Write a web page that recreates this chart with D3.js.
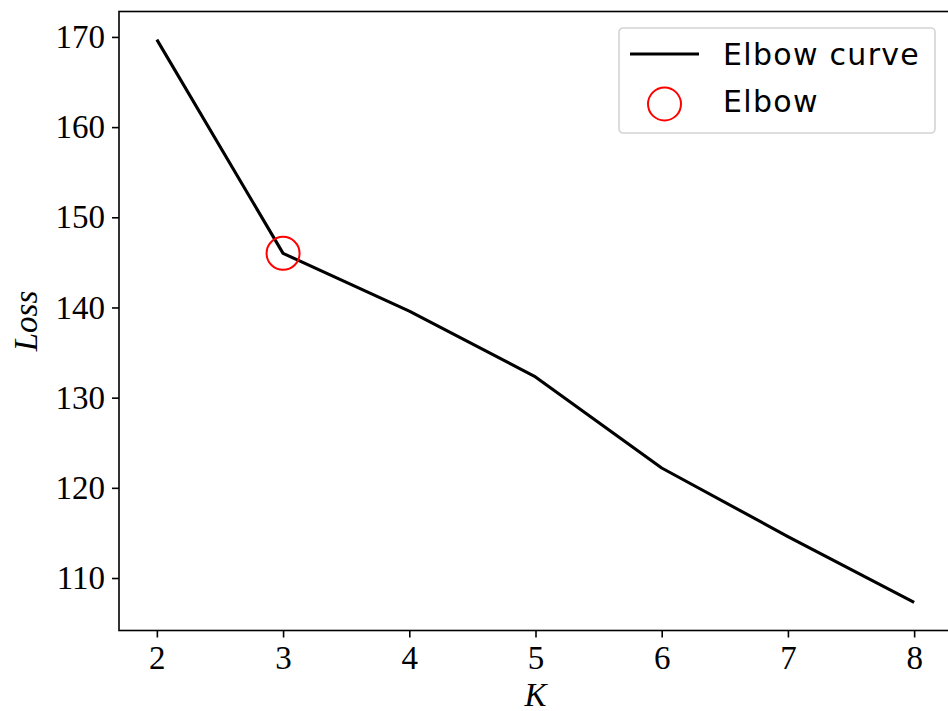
<!DOCTYPE html>
<html>
<head>
<meta charset="utf-8">
<script src="https://cdn.jsdelivr.net/npm/d3@7"></script>
<style>
  body { margin: 0; background: #fff; }
  svg { display: block; }
  .tick text { font-family: "Liberation Serif", "Times New Roman", serif; font-size: 33px; fill: #000; }
  .legend text { font-family: "DejaVu Sans", sans-serif; font-size: 30px; letter-spacing: 1.3px; fill: #000; }
</style>
</head>
<body>
<svg id="chart" width="948" height="711"></svg>
<script>
// values
var kValues = [2, 3, 4, 5, 6, 7, 8];
var lossValues = [169.7, 146.0, 139.6, 132.3, 122.2, 114.6, 107.3];
var elbowK = 3;
var xTicks = [2, 3, 4, 5, 6, 7, 8];
var yTicks = [110, 120, 130, 140, 150, 160, 170];
var seriesNames = ["Elbow curve", "Elbow"];

var svg = d3.select("#chart");
var margin = { left: 119, top: 11.5, bottom: 80.5 };
var plotW = 833; // the right spine falls just outside the picture
var plotH = 711 - margin.top - margin.bottom;

// matplotlib style 5% margins
function pad(ext) {
   var d = (ext[1] - ext[0]) * 0.05;
   return [ext[0] - d, ext[1] + d];
}

var x = d3.scaleLinear().domain(pad(d3.extent(kValues))).range([0, plotW]);
var y = d3.scaleLinear().domain(pad(d3.extent(lossValues))).range([plotH, 0]);

var g = svg.append("g").attr("transform", "translate(" + margin.left + "," + margin.top + ")");

// line
g.append("path")
   .datum(kValues.map(function(k, i) { return [k, lossValues[i]]; }))
   .attr("fill", "none")
   .attr("stroke", "#000")
   .attr("stroke-width", 3.1)
   .attr("stroke-linejoin", "round")
   .attr("d", d3.line().x(function(d) { return x(d[0]); }).y(function(d) { return y(d[1]); }));

// elbow marker
var elbowIdx = kValues.indexOf(elbowK);
g.append("circle")
   .attr("cx", x(elbowK))
   .attr("cy", y(lossValues[elbowIdx]))
   .attr("r", 16.5)
   .attr("fill", "none")
   .attr("stroke", "#ff0000")
   .attr("stroke-width", 2);

// axes
var xAxis = g.append("g")
   .attr("transform", "translate(0," + plotH + ")")
   .call(d3.axisBottom(x).tickValues(xTicks).tickFormat(d3.format("d")).tickSizeOuter(0).tickSize(7).tickPadding(6));
var yAxis = g.append("g")
   .call(d3.axisLeft(y).tickValues(yTicks).tickFormat(d3.format("d")).tickSizeOuter(0).tickSize(7).tickPadding(7));

[xAxis, yAxis].forEach(function(a) {
   a.select(".domain").remove();
   a.selectAll(".tick line").attr("stroke", "#000").attr("stroke-width", 1.6);
});
xAxis.selectAll(".tick text").attr("dy", "0.78em");

// spines
g.append("rect")
   .attr("x", 0).attr("y", 0)
   .attr("width", plotW).attr("height", plotH)
   .attr("fill", "none")
   .attr("stroke", "#000")
   .attr("stroke-width", 1.6);

// axis labels
svg.append("text")
   .attr("x", margin.left + plotW / 2)
   .attr("y", 706)
   .attr("text-anchor", "middle")
   .style("font-family", "'Liberation Serif', serif")
   .style("font-style", "italic")
   .style("font-size", "33px")
   .text("K");

svg.append("text")
   .attr("transform", "translate(37," + (margin.top + plotH / 2) + ") rotate(-90)")
   .attr("text-anchor", "middle")
   .style("font-family", "'Liberation Serif', serif")
   .style("font-style", "italic")
   .style("font-size", "33px")
   .text("Loss");

// legend
var legend = svg.append("g").attr("class", "legend").attr("transform", "translate(619,28)");
legend.append("rect")
   .attr("width", 316).attr("height", 105)
   .attr("rx", 4).attr("ry", 4)
   .attr("fill", "#fff")
   .attr("fill-opacity", 0.8)
   .attr("stroke", "#d4d4d4")
   .attr("stroke-width", 1.6);
legend.append("line")
   .attr("x1", 11).attr("x2", 80)
   .attr("y1", 26).attr("y2", 26)
   .attr("stroke", "#000").attr("stroke-width", 3.1);
legend.append("circle")
   .attr("cx", 45.5).attr("cy", 76)
   .attr("r", 16.5)
   .attr("fill", "none")
   .attr("stroke", "#ff0000")
   .attr("stroke-width", 2);
legend.selectAll("text.lbl")
   .data(seriesNames)
   .enter().append("text")
   .attr("class", "lbl")
   .attr("x", 104)
   .attr("y", function(d, i) { return 36.5 + i * 47; })
   .text(function(d) { return d; });
</script>
</body>
</html>
